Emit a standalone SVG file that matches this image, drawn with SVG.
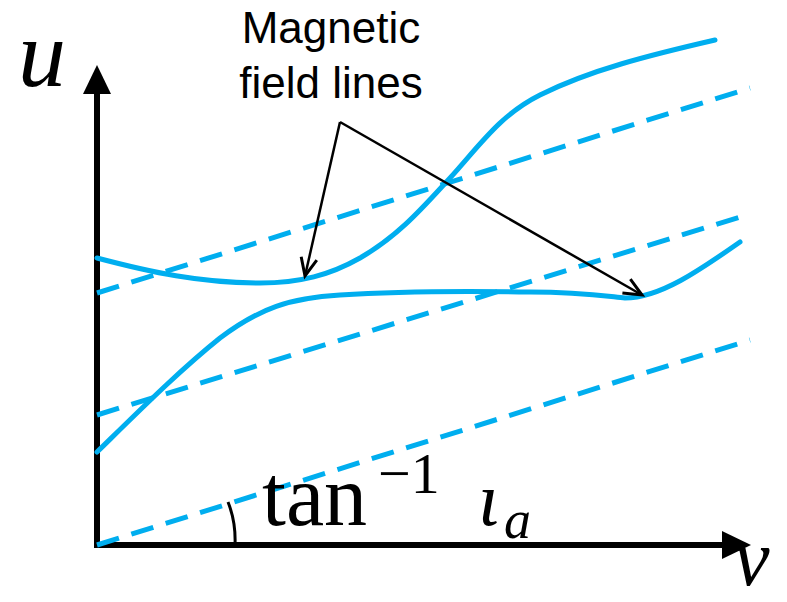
<svg xmlns="http://www.w3.org/2000/svg" width="787" height="602" viewBox="0 0 787 602">
<style>
.dash{fill:none;stroke:#00AEEF;stroke-width:5;stroke-dasharray:23 13}
.curve{fill:none;stroke:#00AEEF;stroke-width:5;stroke-linecap:round}
.ptr{fill:none;stroke:#000;stroke-width:2.5}
.math{font-family:"Liberation Serif","DejaVu Serif",serif;fill:#000}
.lbl{font-family:"Liberation Sans",Arial,sans-serif;font-size:44px;fill:#000;text-anchor:middle}
</style>
<defs>
<marker id="open" markerWidth="24" markerHeight="24" refX="20" refY="10" orient="auto" markerUnits="userSpaceOnUse" viewBox="0 0 24 20">
<path d="M2,2 L20,10 L2,18" fill="none" stroke="#000" stroke-width="3"/>
</marker>
</defs>
<g id="axes">
<line x1="97" y1="548" x2="97" y2="90" stroke="#000" stroke-width="6"/>
<polygon points="97,65 83,94 111,94" fill="#000"/>
<line x1="94" y1="545" x2="725" y2="545" stroke="#000" stroke-width="6"/>
<polygon points="751,545 722,531 722,559" fill="#000"/>
<text class="math" x="18" y="86" font-size="96" font-style="italic">u</text>
<text class="math" x="734" y="585" font-size="80" font-style="italic">v</text>
</g>
<g id="fieldlines">
<line class="dash" x1="97" y1="545" x2="750" y2="340"/>
<line class="dash" x1="97" y1="415" x2="750" y2="214"/>
<line class="dash" x1="97" y1="293" x2="750" y2="88"/>
<path class="curve" d="M97,258 C150,272 200,283 260,283 C300,283 330,275 360,258 C400,235 425,205 450,178 C480,145 500,115 540,95 C590,70 650,55 715,40"/>
<path class="curve" d="M97,452 C140,410 180,370 220,338 C260,308 290,298 340,295 C400,291 470,291 530,292 C580,292 605,296 625,298 C660,298 700,270 740,242"/>
</g>
<g id="angle">
<path d="M228,502 Q236,522 235,545" fill="none" stroke="#000" stroke-width="3"/>
<text class="math" x="262" y="525" font-size="86">tan</text>
<text class="math" x="378" y="493" font-size="58">−1</text>
<text class="math" x="478" y="525" font-size="76" font-style="italic">ι</text>
<text class="math" x="504" y="538" font-size="54" font-style="italic">a</text>
</g>
<g id="label">
<text class="lbl" x="331" y="43">Magnetic</text>
<text class="lbl" x="331" y="98">field lines</text>
</g>
<g id="connectors">
<line class="ptr" x1="340" y1="122" x2="305" y2="276" marker-end="url(#open)"/>
<line class="ptr" x1="340" y1="122" x2="642" y2="295" marker-end="url(#open)"/>
</g>
</svg>
